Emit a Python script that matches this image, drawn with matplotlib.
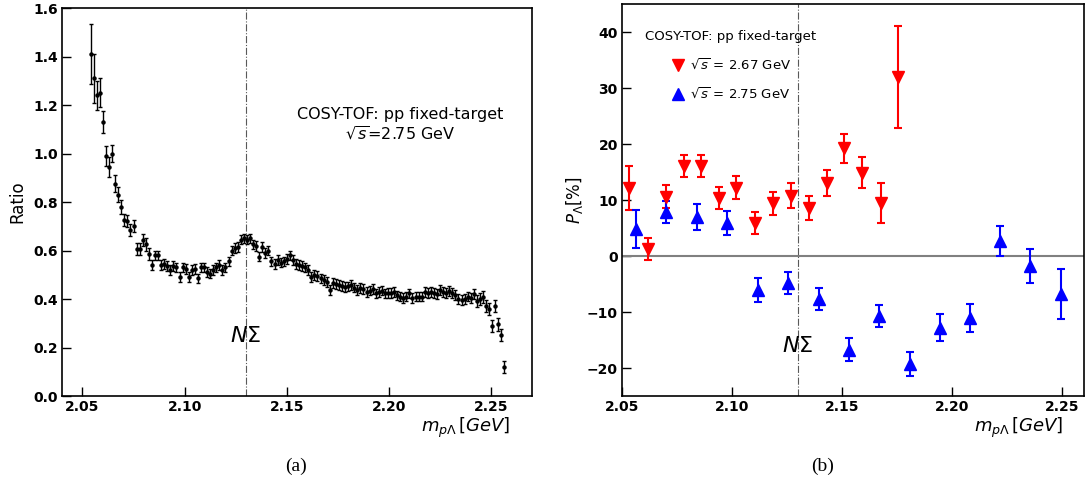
import numpy as np
from matplotlib import pyplot as plt
from matplotlib.lines import Line2D

# ---- panel (a): ratio vs invariant mass ----
mass_a = [2.0540, 2.0555, 2.0570, 2.0585, 2.0600, 2.0615, 2.0630, 2.0645, 2.0660, 2.0675,
          2.0690, 2.0705, 2.0720, 2.0735, 2.0750, 2.0765, 2.0780, 2.0795, 2.0810, 2.0825,
          2.0840, 2.0855, 2.0870, 2.0885, 2.0900, 2.0915, 2.0930, 2.0945, 2.0960, 2.0975,
          2.0990, 2.1005, 2.1020, 2.1035, 2.1050, 2.1065, 2.1080, 2.1095, 2.1110, 2.1125,
          2.1140, 2.1155, 2.1170, 2.1185, 2.1200, 2.1215, 2.1230, 2.1245, 2.1260, 2.1275,
          2.1290, 2.1305, 2.1320, 2.1335, 2.1350, 2.1365, 2.1380, 2.1395, 2.1410, 2.1425,
          2.1440, 2.1455, 2.1470, 2.1485, 2.1500, 2.1515, 2.1530, 2.1545, 2.1560, 2.1575,
          2.1590, 2.1605, 2.1620, 2.1635, 2.1650, 2.1665, 2.1680, 2.1695, 2.1710, 2.1725,
          2.1740, 2.1755, 2.1770, 2.1785, 2.1800, 2.1815, 2.1830, 2.1845, 2.1860, 2.1875,
          2.1890, 2.1905, 2.1920, 2.1935, 2.1950, 2.1965, 2.1980, 2.1995, 2.2010, 2.2025,
          2.2040, 2.2055, 2.2070, 2.2085, 2.2100, 2.2115, 2.2130, 2.2145, 2.2160, 2.2175,
          2.2190, 2.2205, 2.2220, 2.2235, 2.2250, 2.2265, 2.2280, 2.2295, 2.2310, 2.2325,
          2.2340, 2.2355, 2.2370, 2.2385, 2.2400, 2.2415, 2.2430, 2.2445, 2.2460, 2.2475,
          2.2490, 2.2505, 2.2520, 2.2535, 2.2550, 2.2565]

ratio = [1.41, 1.31, 1.24, 1.25, 1.13, 0.99, 0.945, 1.00, 0.875, 0.83,
         0.78, 0.725, 0.72, 0.685, 0.70, 0.605, 0.605, 0.645, 0.625, 0.585,
         0.54, 0.58, 0.58, 0.54, 0.545, 0.535, 0.52, 0.535, 0.53, 0.49,
         0.53, 0.525, 0.49, 0.52, 0.525, 0.485, 0.53, 0.53, 0.51, 0.505,
         0.52, 0.53, 0.54, 0.52, 0.53, 0.555, 0.60, 0.61, 0.615, 0.645,
         0.65, 0.645, 0.65, 0.625, 0.62, 0.575, 0.615, 0.59, 0.60, 0.555,
         0.545, 0.56, 0.55, 0.555, 0.565, 0.58, 0.56, 0.545, 0.54, 0.535,
         0.53, 0.52, 0.49, 0.50, 0.495, 0.485, 0.478, 0.47, 0.437, 0.465,
         0.462, 0.458, 0.455, 0.45, 0.452, 0.458, 0.447, 0.437, 0.444, 0.44,
         0.43, 0.435, 0.44, 0.423, 0.43, 0.435, 0.423, 0.425, 0.425, 0.43,
         0.415, 0.41, 0.403, 0.41, 0.423, 0.403, 0.41, 0.41, 0.41, 0.43,
         0.425, 0.43, 0.425, 0.42, 0.437, 0.43, 0.425, 0.432, 0.425, 0.417,
         0.40, 0.396, 0.40, 0.41, 0.405, 0.42, 0.39, 0.40, 0.41, 0.37,
         0.36, 0.29, 0.37, 0.295, 0.25, 0.12]

ratio_err = ([0.125, 0.10, 0.06, 0.06, 0.045, 0.04, 0.04, 0.035, 0.035, 0.03,
              0.03] + [0.025] * 9 + [0.02] * 106 + [0.025] * 10)

# ---- panel (b): polarisation ----
mass_267 = [2.0533, 2.0620, 2.0700, 2.0780, 2.0860, 2.0940, 2.1020, 2.1105,
            2.1185, 2.1267, 2.1350, 2.1430, 2.1510, 2.1590, 2.1676, 2.1755]
pol_267 = [12.2, 1.2, 10.6, 16.1, 16.1, 10.4, 12.2, 5.9,
           9.4, 10.8, 8.6, 13.0, 19.2, 14.9, 9.5, 32.0]
pol_267_err = [3.9, 2.0, 2.0, 2.0, 2.0, 2.0, 2.0, 2.0,
               2.0, 2.2, 2.2, 2.3, 2.6, 2.8, 3.6, 9.1]

mass_275 = [2.0564, 2.0700, 2.0840, 2.0979, 2.1118, 2.1256, 2.1394, 2.1532,
            2.1670, 2.1808, 2.1945, 2.2083, 2.2220, 2.2356, 2.2494]
pol_275 = [4.9, 7.9, 7.0, 5.9, -6.1, -4.8, -7.7, -16.7,
           -10.7, -19.3, -12.8, -11.0, 2.7, -1.8, -6.8]
pol_275_err = [3.4, 2.0, 2.3, 2.2, 2.1, 2.0, 2.0, 2.0,
               2.0, 2.2, 2.4, 2.5, 2.7, 3.1, 4.5]

threshold = 2.13

fig = plt.figure(figsize=(10.86, 4.95), dpi=100)
ax1 = fig.add_axes([0.0571, 0.2, 0.4328, 0.7838])
ax2 = fig.add_axes([0.5727, 0.2, 0.4254, 0.7919])


def style_axis(ax):
    ax.tick_params(direction='in', length=6.5, width=1.0, top=False, right=False, pad=3)
    for lab in ax.get_xticklabels() + ax.get_yticklabels():
        lab.set_fontweight('bold')
        lab.set_fontsize(10)
    for sp in ax.spines.values():
        sp.set_linewidth(1.2)


# left panel
ax1.errorbar(mass_a, ratio, yerr=ratio_err, fmt='o', color='black', markersize=2.2,
             elinewidth=1.0, capsize=1.6, capthick=1.0)
ax1.axvline(threshold, color='0.35', linestyle='-.', linewidth=0.8)
ax1.set_xlim(2.04, 2.27)
ax1.set_ylim(0.0, 1.6)
ax1.set_xticks([2.05, 2.10, 2.15, 2.20, 2.25])
ax1.set_xticklabels(['2.05', '2.10', '2.15', '2.20', '2.25'])
ax1.set_yticks(np.arange(0, 1.61, 0.2))
ax1.set_yticklabels(['0.0', '0.2', '0.4', '0.6', '0.8', '1.0', '1.2', '1.4', '1.6'])
ax1.set_ylabel('Ratio', fontsize=12)
ax1.yaxis.set_label_coords(-0.076, 0.5)
ax1.set_xlabel(r'$m_{p\Lambda}\,[GeV]$', fontsize=13, ha='right')
ax1.xaxis.set_label_coords(0.953, -0.05)
ax1.text(0.72, 0.70, 'COSY-TOF: pp fixed-target\n' + r'$\sqrt{s}$=2.75 GeV',
         transform=ax1.transAxes, ha='center', va='center', fontsize=11.5,
         linespacing=1.2)
ax1.text(threshold, 0.247, r'$N\Sigma$', ha='center', va='center', fontsize=16)
style_axis(ax1)

# right panel
ax2.axhline(0, color='grey', linewidth=1.5)
ax2.axvline(threshold, color='0.35', linestyle='-.', linewidth=0.8)
ax2.errorbar(mass_267, pol_267, yerr=pol_267_err, fmt='v', color='red', markersize=8,
             elinewidth=1.5, capsize=3, capthick=1.5)
ax2.errorbar(mass_275, pol_275, yerr=pol_275_err, fmt='^', color='blue', markersize=8,
             elinewidth=1.5, capsize=3, capthick=1.5)
ax2.set_xlim(2.05, 2.26)
ax2.set_ylim(-25, 45)
ax2.set_xticks([2.05, 2.10, 2.15, 2.20, 2.25])
ax2.set_xticklabels(['2.05', '2.10', '2.15', '2.20', '2.25'])
ax2.set_yticks([-20, -10, 0, 10, 20, 30, 40])
ax2.set_ylabel(r'$P_{\Lambda}[\%]$', fontsize=12)
ax2.yaxis.set_label_coords(-0.08, 0.5)
ax2.set_xlabel(r'$m_{p\Lambda}\,[GeV]$', fontsize=13, ha='right')
ax2.xaxis.set_label_coords(0.955, -0.05)
ax2.text(threshold, -16.1, r'$N\Sigma$', ha='center', va='center', fontsize=16)
handles = [Line2D([], [], linestyle='none', marker='v', color='red', markersize=8),
           Line2D([], [], linestyle='none', marker='^', color='blue', markersize=8)]
leg = ax2.legend(handles, [r'$\sqrt{s}$ = 2.67 GeV', r'$\sqrt{s}$ = 2.75 GeV'],
                 title='COSY-TOF: pp fixed-target', loc='upper left',
                 bbox_to_anchor=(0.025, 0.965), frameon=False, fontsize=9.5,
                 title_fontsize=9.5, labelspacing=1.1, handlelength=1.0,
                 handletextpad=0.4)
style_axis(ax2)

fig.text(0.2725, 0.057, '(a)', family='Liberation Serif', fontsize=14, ha='center', va='center')
fig.text(0.757, 0.057, '(b)', family='Liberation Serif', fontsize=14, ha='center', va='center')

fig.savefig('out.png', dpi=100)
